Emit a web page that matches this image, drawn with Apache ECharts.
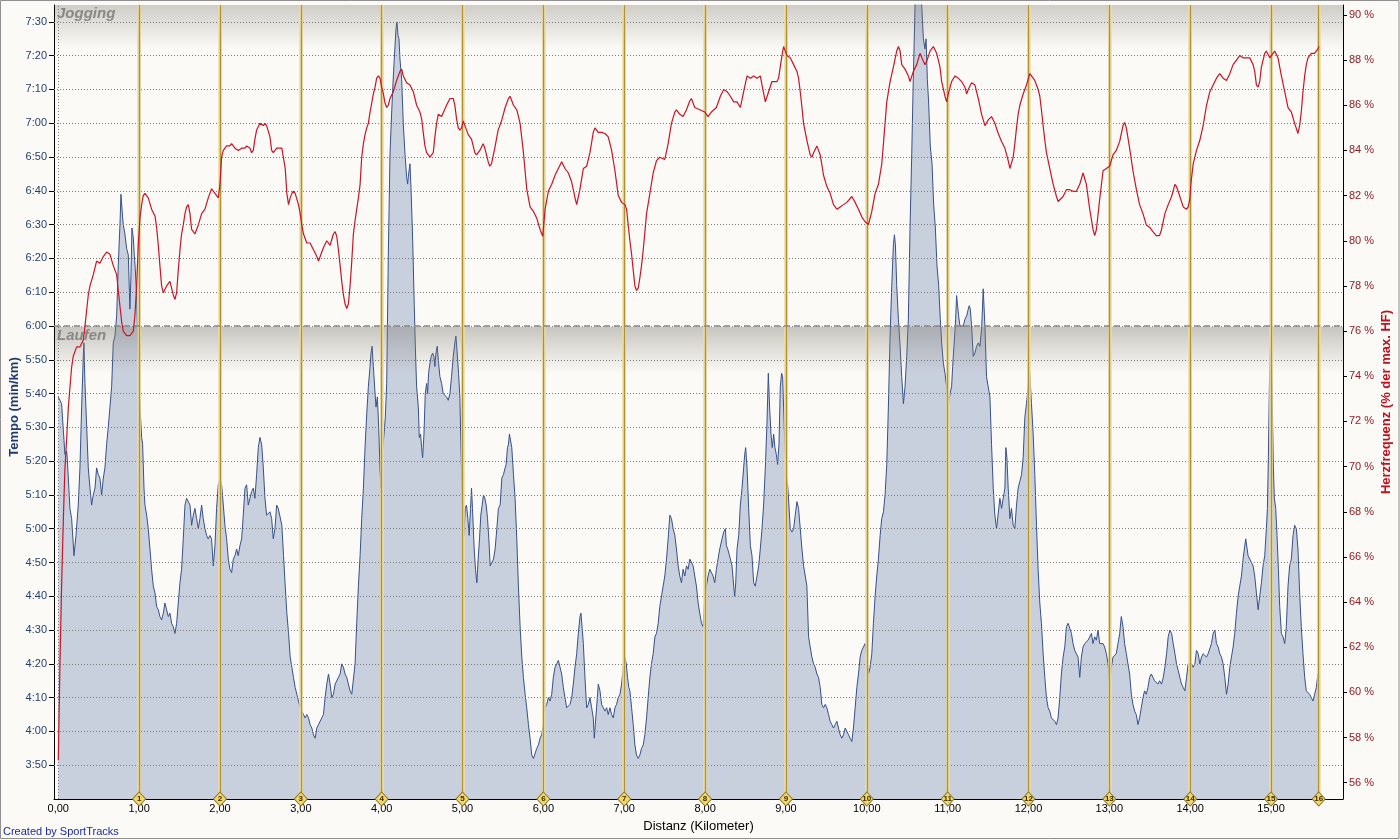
<!DOCTYPE html>
<html><head><meta charset="utf-8">
<script src="https://cdn.jsdelivr.net/npm/echarts@6/dist/echarts.min.js"></script>
<style>html,body{margin:0;padding:0;background:#fbfaf6}#c{width:1400px;height:840px}</style>
</head><body><div id="c"></div><script>
// ---- data ----
const kmTicks = [0,1,2,3,4,5,6,7,8,9,10,11,12,13,14,15];
const kmMarkers = [1,2,3,4,5,6,7,8,9,10,11,12,13,14,15,15.59];
const kmMarkerLabels = ['1','2','3','4','5','6','7','8','9','10','11','12','13','14','15','16'];
const tempoTicks = [230,240,250,260,270,280,290,300,310,320,330,340,350,360,370,380,390,400,410,420,430,440,450];
const hrTicks = [56,58,60,62,64,66,68,70,72,74,76,78,80,82,84,86,88,90];
const zoneBoundary = 360; // 6:00 min/km
const zoneNames = ['Jogging','Laufen'];
const tempoRange = [220,455];
const hrRange = [55.28,90.44];
const distRange = [-0.053,15.89];

// tempo: [distance km, seconds per km]
const tempoPts = [
[0,339],[0.041,337],[0.082,322],[0.103,323],[0.111,321],[0.144,306],[0.165,303],[0.194,292],[0.219,298],[0.247,307],[0.268,318],[0.289,336],[0.309,351],[0.317,355],[0.330,343],[0.350,331],[0.371,318],[0.392,312],[0.412,307],[0.433,310],[0.454,312],[0.474,318],[0.495,316],[0.515,315],[0.536,310],[0.557,315],[0.577,318],[0.598,325],[0.618,330],[0.639,330],[0.660,342],[0.680,355],[0.701,357],[0.722,363],[0.742,378],[0.763,390],[0.775,399],[0.787,399],[0.796,392],[0.804,390],[0.825,387],[0.845,383],[0.866,381],[0.886,365],[0.899,375],[0.911,389],[0.928,386],[0.940,381],[0.952,377],[0.969,369],[0.989,351],
[1.010,336],[1.031,327],[1.043,325],[1.060,312],[1.072,307],[1.093,304],[1.113,300],[1.134,294],[1.154,288],[1.175,283],[1.196,281],[1.216,277],[1.237,276],[1.257,274],[1.278,273],[1.299,275],[1.319,278],[1.340,276],[1.361,274],[1.381,275],[1.402,272],[1.422,271],[1.443,269],[1.464,272],[1.484,278],[1.505,284],[1.525,288],[1.546,297],[1.567,307],[1.587,309],[1.608,309],[1.629,307],[1.649,301],[1.670,304],[1.690,306],[1.711,303],[1.732,300],[1.752,303],[1.773,307],[1.793,303],[1.814,300],[1.835,298],[1.855,297],[1.876,298],[1.896,297],[1.917,289],[1.938,295],[1.958,306],[1.979,313],
[2.000,315],[2.020,313],[2.041,307],[2.061,301],[2.082,297],[2.103,291],[2.123,288],[2.144,287],[2.165,291],[2.185,292],[2.206,294],[2.226,292],[2.247,295],[2.268,297],[2.288,304],[2.309,312],[2.329,313],[2.350,307],[2.371,307],[2.391,311],[2.412,312],[2.432,309],[2.453,316],[2.474,324],[2.494,327],[2.515,325],[2.536,318],[2.556,309],[2.577,304],[2.597,304],[2.618,305],[2.639,303],[2.659,297],[2.680,300],[2.701,307],[2.721,306],[2.765,301],[2.786,292],[2.807,283],[2.827,275],[2.848,269],[2.868,262],[2.889,259],[2.909,256],[2.930,253],[2.951,251],[2.971,249],[2.992,247],
[3.012,246],[3.033,245],[3.053,244],[3.074,245],[3.095,244],[3.115,242],[3.136,241],[3.156,239],[3.177,238],[3.198,241],[3.218,242],[3.239,242],[3.259,244],[3.280,245],[3.300,250],[3.321,254],[3.342,257],[3.362,254],[3.383,250],[3.403,251],[3.424,254],[3.444,254],[3.465,256],[3.486,257],[3.506,260],[3.527,259],[3.547,257],[3.568,256],[3.588,254],[3.609,252],[3.630,251],[3.650,251],[3.671,260],[3.691,272],[3.712,283],[3.733,292],[3.753,303],[3.774,312],[3.794,324],[3.815,334],[3.835,342],[3.856,348],[3.868,352],[3.881,354],[3.897,348],[3.918,340],[3.930,336],[3.947,339],[3.963,330],[3.979,318],[3.992,312],
[4.000,321],[4.012,324],[4.029,328],[4.045,333],[4.062,343],[4.082,381],[4.103,411],[4.123,423],[4.144,434],[4.165,443],[4.177,448],[4.189,450],[4.202,446],[4.214,445],[4.226,439],[4.247,433],[4.267,420],[4.288,411],[4.309,404],[4.321,402],[4.333,405],[4.350,408],[4.362,401],[4.379,389],[4.391,378],[4.403,366],[4.416,354],[4.432,342],[4.453,336],[4.465,327],[4.481,328],[4.494,324],[4.506,321],[4.523,328],[4.539,340],[4.556,343],[4.568,340],[4.580,346],[4.597,349],[4.613,351],[4.630,352],[4.646,351],[4.658,348],[4.671,352],[4.687,354],[4.704,349],[4.720,345],[4.741,343],[4.761,340],[4.782,340],[4.802,339],[4.823,338],[4.844,340],[4.864,345],[4.885,351],[4.905,355],[4.918,357],[4.934,352],[4.951,346],[4.967,339],[4.984,321],
[5.000,306],[5.016,298],[5.033,306],[5.049,307],[5.066,303],[5.082,298],[5.099,306],[5.111,312],[5.123,306],[5.144,294],[5.160,288],[5.177,284],[5.193,291],[5.210,297],[5.226,304],[5.243,307],[5.259,310],[5.276,309],[5.292,307],[5.309,303],[5.325,297],[5.342,289],[5.362,290],[5.383,291],[5.403,294],[5.424,300],[5.444,306],[5.465,307],[5.486,315],[5.506,316],[5.527,318],[5.539,319],[5.556,324],[5.568,325],[5.580,328],[5.588,328],[5.609,324],[5.630,316],[5.650,309],[5.671,297],[5.691,283],[5.712,271],[5.733,262],[5.753,256],[5.774,251],[5.794,247],[5.815,242],[5.835,238],[5.856,233],[5.877,232],[5.897,232],[5.918,235],[5.938,236],[5.959,238],[5.979,239],
[6.000,242],[6.021,247],[6.041,248],[6.062,250],[6.082,249],[6.103,251],[6.123,256],[6.144,259],[6.165,260],[6.185,261],[6.206,259],[6.226,257],[6.247,253],[6.267,250],[6.288,247],[6.309,247],[6.329,248],[6.350,250],[6.370,254],[6.391,259],[6.412,263],[6.432,269],[6.453,274],[6.465,275],[6.477,275],[6.494,266],[6.514,256],[6.535,247],[6.556,248],[6.576,250],[6.597,247],[6.617,244],[6.630,238],[6.642,242],[6.658,247],[6.679,254],[6.700,252],[6.720,248],[6.741,247],[6.761,246],[6.782,247],[6.802,245],[6.823,247],[6.844,245],[6.864,244],[6.885,247],[6.905,248],[6.926,250],[6.947,251],[6.967,254],[6.988,259],
[7.008,262],[7.025,260],[7.041,256],[7.057,253],[7.070,252],[7.091,247],[7.111,242],[7.132,236],[7.152,233],[7.173,232],[7.193,233],[7.214,235],[7.235,236],[7.255,239],[7.276,244],[7.296,250],[7.317,256],[7.337,260],[7.358,263],[7.379,268],[7.399,269],[7.420,272],[7.440,277],[7.461,280],[7.481,283],[7.502,286],[7.523,291],[7.543,297],[7.564,304],[7.584,303],[7.605,300],[7.626,298],[7.646,294],[7.667,289],[7.687,286],[7.708,284],[7.728,288],[7.749,286],[7.770,289],[7.790,288],[7.811,291],[7.831,291],[7.852,289],[7.872,286],[7.893,283],[7.914,278],[7.934,275],[7.955,272],[7.975,271],[7.996,280],
[8.016,283],[8.037,286],[8.058,288],[8.078,288],[8.099,286],[8.119,284],[8.140,288],[8.160,291],[8.181,294],[8.189,294],[8.210,297],[8.230,299],[8.251,300],[8.263,295],[8.280,294],[8.296,294],[8.313,291],[8.333,289],[8.354,283],[8.366,280],[8.379,284],[8.395,294],[8.416,298],[8.436,307],[8.457,312],[8.477,318],[8.490,322],[8.502,324],[8.519,318],[8.539,306],[8.560,295],[8.580,292],[8.601,284],[8.621,283],[8.642,283],[8.663,289],[8.683,294],[8.704,300],[8.724,307],[8.745,318],[8.765,331],[8.782,346],[8.798,336],[8.815,328],[8.831,324],[8.848,328],[8.864,324],[8.881,322],[8.897,319],[8.914,325],[8.930,342],[8.947,346],[8.959,345],[8.971,336],[8.988,324],
[9.004,316],[9.021,313],[9.037,307],[9.053,300],[9.074,299],[9.095,300],[9.115,304],[9.136,308],[9.156,306],[9.177,300],[9.198,294],[9.218,289],[9.239,286],[9.259,283],[9.280,268],[9.300,265],[9.321,262],[9.342,260],[9.362,259],[9.383,257],[9.403,256],[9.424,253],[9.444,248],[9.465,247],[9.486,248],[9.506,247],[9.527,245],[9.547,243],[9.568,242],[9.588,241],[9.609,242],[9.630,243],[9.650,241],[9.671,239],[9.691,238],[9.712,239],[9.733,241],[9.753,241],[9.774,239],[9.794,238],[9.815,237],[9.835,241],[9.856,247],[9.877,253],[9.897,257],[9.918,262],[9.938,264],[9.959,265],[9.979,266],
[10.000,262],[10.021,257],[10.041,259],[10.062,263],[10.082,272],[10.103,280],[10.123,286],[10.144,291],[10.165,298],[10.185,303],[10.206,305],[10.226,310],[10.247,319],[10.267,336],[10.288,357],[10.309,372],[10.329,384],[10.342,387],[10.354,384],[10.370,372],[10.391,362],[10.412,354],[10.432,345],[10.453,337],[10.473,342],[10.494,351],[10.514,362],[10.535,389],[10.556,411],[10.576,434],[10.597,455],[10.612,468],[10.640,472],[10.665,466],[10.679,455],[10.700,445],[10.720,442],[10.733,445],[10.749,433],[10.765,426],[10.786,413],[10.807,408],[10.827,396],[10.848,389],[10.868,378],[10.889,372],[10.909,362],[10.926,355],[10.947,349],[10.967,346],[10.988,342],
[11.008,336],[11.029,340],[11.049,342],[11.062,348],[11.078,354],[11.095,360],[11.111,369],[11.123,366],[11.136,363],[11.152,360],[11.173,360],[11.193,360],[11.214,362],[11.235,363],[11.255,365],[11.267,366],[11.280,365],[11.296,360],[11.317,351],[11.337,352],[11.358,354],[11.379,355],[11.399,354],[11.420,359],[11.440,371],[11.461,360],[11.481,345],[11.502,342],[11.523,339],[11.543,325],[11.564,312],[11.584,304],[11.605,300],[11.626,300],[11.646,309],[11.667,306],[11.687,309],[11.708,312],[11.720,324],[11.733,321],[11.749,312],[11.770,303],[11.790,306],[11.811,301],[11.831,300],[11.852,307],[11.872,312],[11.893,314],[11.914,316],[11.934,321],[11.955,333],[11.975,337],[11.996,342],
[12.008,348],[12.016,346],[12.037,337],[12.058,328],[12.078,316],[12.099,301],[12.119,288],[12.140,278],[12.160,272],[12.181,263],[12.202,256],[12.222,250],[12.243,247],[12.263,246],[12.284,244],[12.305,244],[12.325,243],[12.346,242],[12.366,244],[12.387,250],[12.407,257],[12.428,262],[12.449,265],[12.469,271],[12.490,272],[12.510,272],[12.531,269],[12.551,266],[12.572,264],[12.593,264],[12.613,262],[12.634,256],[12.654,262],[12.675,265],[12.695,266],[12.716,266],[12.737,267],[12.757,267],[12.778,269],[12.798,266],[12.819,268],[12.840,267],[12.860,270],[12.881,266],[12.901,266],[12.922,266],[12.942,265],[12.963,263],[12.984,260],
[13.004,254],[13.025,259],[13.045,262],[13.066,262],[13.086,263],[13.107,266],[13.128,269],[13.148,274],[13.169,271],[13.189,266],[13.210,263],[13.230,260],[13.251,257],[13.272,251],[13.292,248],[13.313,246],[13.333,245],[13.354,242],[13.374,244],[13.395,247],[13.416,250],[13.436,252],[13.457,251],[13.477,253],[13.498,256],[13.519,257],[13.539,256],[13.560,255],[13.580,255],[13.601,254],[13.621,255],[13.646,254],[13.667,256],[13.687,259],[13.708,263],[13.728,268],[13.749,270],[13.770,269],[13.790,266],[13.811,263],[13.831,260],[13.852,258],[13.872,256],[13.893,254],[13.914,253],[13.934,252],[13.955,256],[13.975,260],[13.996,260],
[14.016,260],[14.037,259],[14.058,260],[14.078,264],[14.099,263],[14.119,260],[14.140,262],[14.160,263],[14.181,263],[14.202,262],[14.222,263],[14.243,263],[14.263,266],[14.284,269],[14.305,270],[14.325,266],[14.346,265],[14.366,263],[14.387,262],[14.407,260],[14.428,256],[14.449,251],[14.469,254],[14.490,259],[14.510,262],[14.531,265],[14.551,269],[14.572,275],[14.593,280],[14.613,283],[14.634,286],[14.654,291],[14.675,295],[14.687,297],[14.700,297],[14.716,292],[14.737,291],[14.757,291],[14.778,289],[14.798,286],[14.819,281],[14.840,276],[14.860,280],[14.881,284],[14.901,289],[14.922,292],[14.942,300],[14.955,306],[14.967,321],[14.979,342],[14.992,354],
[15.004,351],[15.016,336],[15.029,318],[15.041,309],[15.058,306],[15.074,298],[15.091,288],[15.107,277],[15.128,269],[15.148,268],[15.169,266],[15.189,271],[15.210,283],[15.230,289],[15.251,291],[15.272,298],[15.292,301],[15.313,300],[15.333,294],[15.354,281],[15.374,271],[15.395,263],[15.416,256],[15.436,252],[15.457,252],[15.477,251],[15.498,250],[15.519,249],[15.539,251],[15.560,253],[15.580,257],[15.593,257]
];

// heart rate: [distance km, % of max HR]
const hrPts = [
[0,57.0],[0.021,61.3],[0.041,64.7],[0.062,67.6],[0.082,69.9],[0.103,71.2],[0.124,72.6],[0.144,73.5],[0.165,74.4],[0.186,74.9],[0.227,75.3],[0.268,75.3],[0.309,75.6],[0.330,76.2],[0.350,76.9],[0.371,77.6],[0.392,78.0],[0.433,78.5],[0.474,79.1],[0.515,79.0],[0.557,79.3],[0.598,79.5],[0.618,79.5],[0.639,79.4],[0.680,78.9],[0.722,78.5],[0.742,77.8],[0.763,77.1],[0.784,76.4],[0.804,76.0],[0.845,75.8],[0.886,75.8],[0.928,76.0],[0.948,76.7],[0.969,78.0],[0.989,79.8],
[1.010,81.0],[1.031,81.6],[1.051,82.0],[1.072,82.1],[1.113,81.9],[1.154,81.4],[1.196,81.1],[1.216,80.6],[1.237,79.8],[1.257,78.9],[1.278,78.0],[1.299,77.7],[1.340,78.0],[1.381,78.2],[1.422,77.6],[1.443,77.4],[1.464,77.7],[1.484,78.7],[1.505,79.6],[1.525,80.3],[1.546,80.7],[1.567,81.2],[1.587,81.5],[1.608,81.6],[1.629,81.2],[1.649,80.5],[1.690,80.3],[1.732,80.7],[1.773,81.2],[1.814,81.4],[1.855,81.9],[1.896,82.3],[1.938,82.1],[1.979,81.9],
[2.000,82.5],[2.020,83.7],[2.041,84.0],[2.082,84.2],[2.123,84.2],[2.144,84.3],[2.185,84.1],[2.226,84.0],[2.268,84.1],[2.309,84.1],[2.329,84.2],[2.371,84.1],[2.391,83.9],[2.412,84.0],[2.432,84.5],[2.453,84.9],[2.494,85.2],[2.536,85.1],[2.556,85.2],[2.577,85.1],[2.618,84.6],[2.639,84.0],[2.659,83.9],[2.701,84.1],[2.721,84.1],[2.765,84.1],[2.807,83.2],[2.827,82.1],[2.848,81.6],[2.868,81.9],[2.889,82.1],[2.909,82.2],[2.930,82.1],[2.971,81.6],[2.992,81.2],
[3.012,80.7],[3.033,80.3],[3.074,79.9],[3.115,79.9],[3.156,79.6],[3.198,79.3],[3.218,79.1],[3.239,79.3],[3.280,79.7],[3.321,80.0],[3.362,79.8],[3.403,80.3],[3.424,80.4],[3.444,80.2],[3.465,79.6],[3.486,78.9],[3.506,78.2],[3.527,77.6],[3.547,77.2],[3.568,77.0],[3.588,77.2],[3.609,78.0],[3.630,79.1],[3.650,80.3],[3.671,80.9],[3.691,81.4],[3.712,81.9],[3.733,82.5],[3.753,83.7],[3.774,84.3],[3.794,84.7],[3.815,85.0],[3.835,85.2],[3.856,85.7],[3.877,86.1],[3.897,86.5],[3.918,86.8],[3.938,87.2],[3.959,87.3],[3.979,87.2],
[4.000,86.8],[4.021,86.5],[4.041,86.1],[4.062,85.9],[4.082,86.0],[4.103,86.3],[4.144,86.6],[4.185,87.1],[4.226,87.5],[4.247,87.6],[4.267,87.3],[4.309,87.0],[4.350,86.9],[4.391,86.6],[4.432,86.0],[4.473,85.7],[4.494,85.4],[4.514,84.8],[4.535,84.2],[4.556,83.9],[4.597,83.7],[4.617,83.7],[4.638,83.9],[4.658,84.6],[4.679,85.2],[4.700,85.6],[4.741,85.5],[4.761,85.5],[4.802,86.0],[4.844,86.3],[4.885,86.3],[4.905,86.0],[4.926,85.4],[4.947,85.0],[4.967,84.9],[4.988,85.0],
[5.008,85.3],[5.029,85.1],[5.070,84.7],[5.111,84.5],[5.152,83.9],[5.173,83.8],[5.214,84.0],[5.255,84.3],[5.276,84.1],[5.317,83.5],[5.337,83.3],[5.358,83.4],[5.399,84.1],[5.440,84.9],[5.461,85.1],[5.486,85.35],[5.527,85.9],[5.568,86.3],[5.588,86.4],[5.630,86.0],[5.671,85.8],[5.712,85.2],[5.753,83.9],[5.794,82.3],[5.835,81.5],[5.877,81.3],[5.918,81.0],[5.959,80.5],[5.992,80.2],
[6.021,81.4],[6.062,82.2],[6.103,82.5],[6.144,82.9],[6.185,83.2],[6.226,83.5],[6.267,83.2],[6.309,83.0],[6.350,82.6],[6.391,81.9],[6.412,81.6],[6.453,82.3],[6.494,83.2],[6.535,83.3],[6.576,83.9],[6.617,84.8],[6.638,85.0],[6.679,84.8],[6.720,84.8],[6.761,84.75],[6.802,84.6],[6.844,84.0],[6.885,83.1],[6.926,82.0],[6.967,81.7],
[7.008,81.6],[7.029,81.4],[7.049,80.7],[7.070,80.0],[7.091,79.4],[7.111,78.7],[7.132,78.0],[7.152,77.8],[7.173,77.9],[7.193,78.35],[7.214,78.9],[7.235,79.6],[7.276,81.2],[7.317,82.1],[7.358,83.0],[7.399,83.55],[7.440,83.7],[7.502,83.6],[7.543,84.3],[7.584,85.2],[7.626,85.7],[7.646,85.8],[7.687,85.6],[7.728,85.5],[7.770,85.8],[7.811,86.2],[7.831,86.3],[7.872,85.9],[7.934,85.8],[7.996,85.7],
[8.037,85.5],[8.078,85.7],[8.140,85.9],[8.189,86.4],[8.230,86.7],[8.272,86.6],[8.313,86.4],[8.354,86.15],[8.395,86.15],[8.436,85.9],[8.477,86.6],[8.519,87.3],[8.560,87.2],[8.601,87.3],[8.642,87.2],[8.683,87.3],[8.704,86.9],[8.745,86.15],[8.786,86.6],[8.827,87.05],[8.889,87.05],[8.909,87.2],[8.930,87.7],[8.951,88.2],[8.971,88.6],
[9.012,88.2],[9.053,88.1],[9.095,87.8],[9.136,87.5],[9.156,87.2],[9.177,86.6],[9.198,85.9],[9.218,85.2],[9.259,84.45],[9.300,83.8],[9.321,83.7],[9.342,83.9],[9.383,84.2],[9.424,83.8],[9.465,82.9],[9.506,82.4],[9.547,82.1],[9.588,81.6],[9.630,81.4],[9.671,81.5],[9.712,81.6],[9.753,81.7],[9.815,81.96],[9.856,81.7],[9.897,81.4],[9.938,81.06],[9.979,80.84],
[10.021,80.72],[10.062,81.3],[10.103,82.1],[10.144,82.5],[10.185,83.4],[10.206,84.3],[10.226,85.2],[10.247,86.15],[10.288,87.05],[10.329,87.7],[10.370,88.4],[10.391,88.6],[10.412,88.4],[10.432,87.8],[10.473,87.6],[10.514,87.3],[10.535,87.05],[10.576,87.5],[10.617,87.8],[10.658,88.3],[10.700,87.95],[10.720,87.8],[10.741,87.95],[10.782,88.4],[10.823,88.6],[10.864,88.3],[10.905,87.7],[10.926,87.05],[10.967,86.4],[10.988,86.15],
[11.008,86.5],[11.049,87.05],[11.091,87.3],[11.132,87.2],[11.173,87.05],[11.214,86.8],[11.235,86.5],[11.255,86.7],[11.296,87.0],[11.337,86.9],[11.379,86.3],[11.420,85.6],[11.461,85.1],[11.502,85.35],[11.543,85.5],[11.584,85.2],[11.626,84.75],[11.667,84.4],[11.708,84.1],[11.749,83.55],[11.770,83.2],[11.790,83.2],[11.811,83.7],[11.831,84.3],[11.852,85.0],[11.872,85.6],[11.893,86.0],[11.934,86.5],[11.975,86.9],
[12.016,87.4],[12.037,87.4],[12.078,87.1],[12.119,86.7],[12.140,86.4],[12.160,85.8],[12.181,85.1],[12.202,84.45],[12.222,83.9],[12.263,83.2],[12.305,82.5],[12.346,81.96],[12.366,81.74],[12.387,81.74],[12.428,81.96],[12.469,82.26],[12.510,82.26],[12.551,82.19],[12.593,82.19],[12.634,82.5],[12.675,83.0],[12.695,83.0],[12.716,82.5],[12.757,81.4],[12.798,80.5],[12.819,80.23],[12.840,80.5],[12.881,81.85],[12.922,83.1],[12.963,83.2],
[13.004,83.3],[13.045,83.8],[13.086,84.0],[13.128,84.4],[13.169,85.1],[13.189,85.24],[13.210,85.0],[13.251,84.1],[13.292,83.1],[13.333,82.3],[13.374,81.6],[13.416,81.2],[13.457,80.7],[13.498,80.6],[13.539,80.4],[13.580,80.23],[13.621,80.23],[13.646,80.5],[13.687,81.2],[13.728,81.6],[13.770,81.96],[13.811,82.5],[13.831,82.4],[13.872,81.96],[13.914,81.5],[13.955,81.4],[13.975,81.5],[13.996,81.85],
[14.008,82.5],[14.037,83.4],[14.078,84.0],[14.119,84.45],[14.160,85.1],[14.202,86.0],[14.243,86.6],[14.284,86.9],[14.325,87.2],[14.366,87.4],[14.407,87.2],[14.449,87.1],[14.490,87.4],[14.531,87.8],[14.572,88.0],[14.613,88.2],[14.634,88.2],[14.654,88.1],[14.695,88.1],[14.737,88.1],[14.778,87.8],[14.798,87.5],[14.819,86.9],[14.840,86.8],[14.860,87.05],[14.881,87.7],[14.922,88.3],[14.942,88.4],[14.984,88.1],
[15.004,88.2],[15.045,88.4],[15.086,88.1],[15.128,87.3],[15.169,86.6],[15.210,85.9],[15.251,85.7],[15.292,85.2],[15.333,84.75],[15.354,85.1],[15.374,85.7],[15.395,86.6],[15.416,87.3],[15.436,87.8],[15.457,88.1],[15.498,88.3],[15.539,88.3],[15.580,88.5],[15.593,88.6]
];

// ---- chart ----
const FONT = '"Liberation Sans", Arial, sans-serif';
function fmtTempo(v){ const m = Math.floor(v/60), s = Math.round(v%60); return m + ':' + (s<10?'0':'') + s; }

const chart = echarts.init(document.getElementById('c'), null, {renderer:'canvas'});
const option = {
  animation:false,
  backgroundColor:'#fbfaf6',
  textStyle:{fontFamily:FONT},
  grid:{left:54, right:57, top:5, bottom:41, containLabel:false, outerBoundsMode:'none'},
  xAxis:{
    type:'value', min:distRange[0], max:distRange[1],
    axisLine:{show:true, onZero:false, lineStyle:{color:'#000', width:1}},
    axisTick:{show:false},
    splitLine:{show:false},
    axisLabel:{customValues:kmTicks, formatter:v=>v.toFixed(2).replace('.',','), color:'#000', fontSize:11, fontFamily:FONT, margin:4}
  },
  yAxis:[{
    type:'value', min:tempoRange[0], max:tempoRange[1], position:'left',
    axisLine:{show:true, onZero:false, lineStyle:{color:'#000', width:1}},
    axisTick:{show:true, customValues:tempoTicks, length:5, lineStyle:{color:'#000'}},
    splitLine:{show:false},
    axisLabel:{customValues:tempoTicks, formatter:fmtTempo, color:'#233f6e', fontSize:11, fontFamily:FONT, margin:7}
  },{
    type:'value', min:hrRange[0], max:hrRange[1], position:'right',
    axisLine:{show:true, onZero:false, lineStyle:{color:'#000', width:1}},
    axisTick:{show:true, customValues:hrTicks, length:4, lineStyle:{color:'#000'}},
    splitLine:{show:false},
    axisLabel:{customValues:hrTicks, formatter:v=>v+' %', color:'#951b25', fontSize:11, fontFamily:FONT, margin:6}
  }],
  series:[
    {
      name:'Tempo', type:'line', yAxisIndex:0, data:tempoPts, showSymbol:false, symbol:'none', silent:true,
      lineStyle:{color:'#36518a', width:1}, areaStyle:{color:'#c9d0dd', opacity:1, origin:'start'}, z:2
    },
    {
      name:'grid', type:'line', yAxisIndex:0, data:[], silent:true, z:3,
      markLine:{
        silent:true, symbol:'none', animation:false, label:{show:false},
        lineStyle:{color:'#7a7a7a', width:1, type:[1,2]},
        data: tempoTicks.map(v=>({yAxis:v})).concat([{xAxis:0}])
      }
    },
    {
      name:'kmHalo', type:'line', yAxisIndex:0, data:[], silent:true, z:4,
      markLine:{
        silent:true, symbol:'none', animation:false, label:{show:false},
        lineStyle:{color:'#eadba4', width:3.5, type:'solid'},
        data: kmMarkers.map(v=>({xAxis:v}))
      }
    },
    {
      name:'km', type:'line', yAxisIndex:0, data:[], silent:true, z:5,
      markLine:{
        silent:true, symbol:'none', animation:false, label:{show:false},
        lineStyle:{color:'#b3922c', width:1.3, type:'solid'},
        data: kmMarkers.map(v=>({xAxis:v})).concat([{yAxis:zoneBoundary, lineStyle:{color:'#868686', width:1.5, type:[6,4]}}])
      },
      markPoint:{
        silent:true, animation:false, symbol:'diamond', symbolSize:[13,14],
        itemStyle:{color:'#f2d66c', borderColor:'#8a7322', borderWidth:1},
        label:{show:true, formatter:p=>p.name, fontSize:8, fontWeight:'bold', color:'#3d3000', fontFamily:FONT},
        data: kmMarkers.map((v,i)=>({name:kmMarkerLabels[i], coord:[v,tempoRange[0]]}))
      }
    },
    {
      name:'HF', type:'line', yAxisIndex:1, data:hrPts, showSymbol:false, symbol:'none', silent:true,
      lineStyle:{color:'#cc1425', width:1.2}, z:6
    }
  ]
};
chart.setOption(option);

// zone bands and texts positioned through the axis scales
const yTop = chart.convertToPixel({yAxisIndex:0}, tempoRange[1]);
const yZone = chart.convertToPixel({yAxisIndex:0}, zoneBoundary);
const yBottom = chart.convertToPixel({yAxisIndex:0}, tempoRange[0]);
const xL = chart.convertToPixel({xAxisIndex:0}, distRange[0]);
const xR = chart.convertToPixel({xAxisIndex:0}, distRange[1]);
function band(y, h, a){
  return {type:'rect', silent:true, z:4, shape:{x:xL+1, y:y, width:xR-xL-1, height:h},
    style:{fill:{type:'linear', x:0, y:0, x2:0, y2:1, colorStops:[{offset:0,color:'rgba(130,125,118,'+a+')'},{offset:1,color:'rgba(130,125,118,0)'}]}}};
}
chart.setOption({graphic:[
  band(yTop, 44, 0.36),
  band(yZone+1, 46, 0.42),
  {type:'text', silent:true, z:1, x:xL+3, y:yTop+1, style:{text:zoneNames[0], font:'italic bold 15px '+FONT, fill:'#8d8d8d', verticalAlign:'top', textVerticalAlign:'top'}},
  {type:'text', silent:true, z:1, x:xL+3, y:yZone+2, style:{text:zoneNames[1], font:'italic bold 15px '+FONT, fill:'#8d8d8d', verticalAlign:'top', textVerticalAlign:'top'}},
  {type:'text', silent:true, z:10, x:14, y:(yTop+yBottom)/2+5, rotation:Math.PI/2, style:{text:'Tempo (min/km)', font:'bold 13px '+FONT, fill:'#1f3a6e', align:'center', verticalAlign:'middle', textAlign:'center', textVerticalAlign:'middle'}},
  {type:'text', silent:true, z:10, x:1386, y:(yTop+yBottom)/2, rotation:Math.PI/2, style:{text:'Herzfrequenz (% der max. HF)', font:'bold 13px '+FONT, fill:'#c0101e', align:'center', verticalAlign:'middle', textAlign:'center', textVerticalAlign:'middle'}},
  {type:'text', silent:true, z:10, x:(xL+xR)/2, y:826, style:{text:'Distanz (Kilometer)', font:'13px '+FONT, fill:'#000', align:'center', verticalAlign:'middle', textAlign:'center', textVerticalAlign:'middle'}},
  {type:'text', silent:true, z:10, x:3, y:832, style:{text:'Created by SportTracks', font:'11px '+FONT, fill:'#1d2aa8', verticalAlign:'middle', textVerticalAlign:'middle'}},
  {type:'rect', silent:true, z:20, shape:{x:0.5, y:0.5, width:1398.5, height:838}, style:{fill:null, stroke:'#8f8f8f', lineWidth:1}}
]});
</script></body></html>
